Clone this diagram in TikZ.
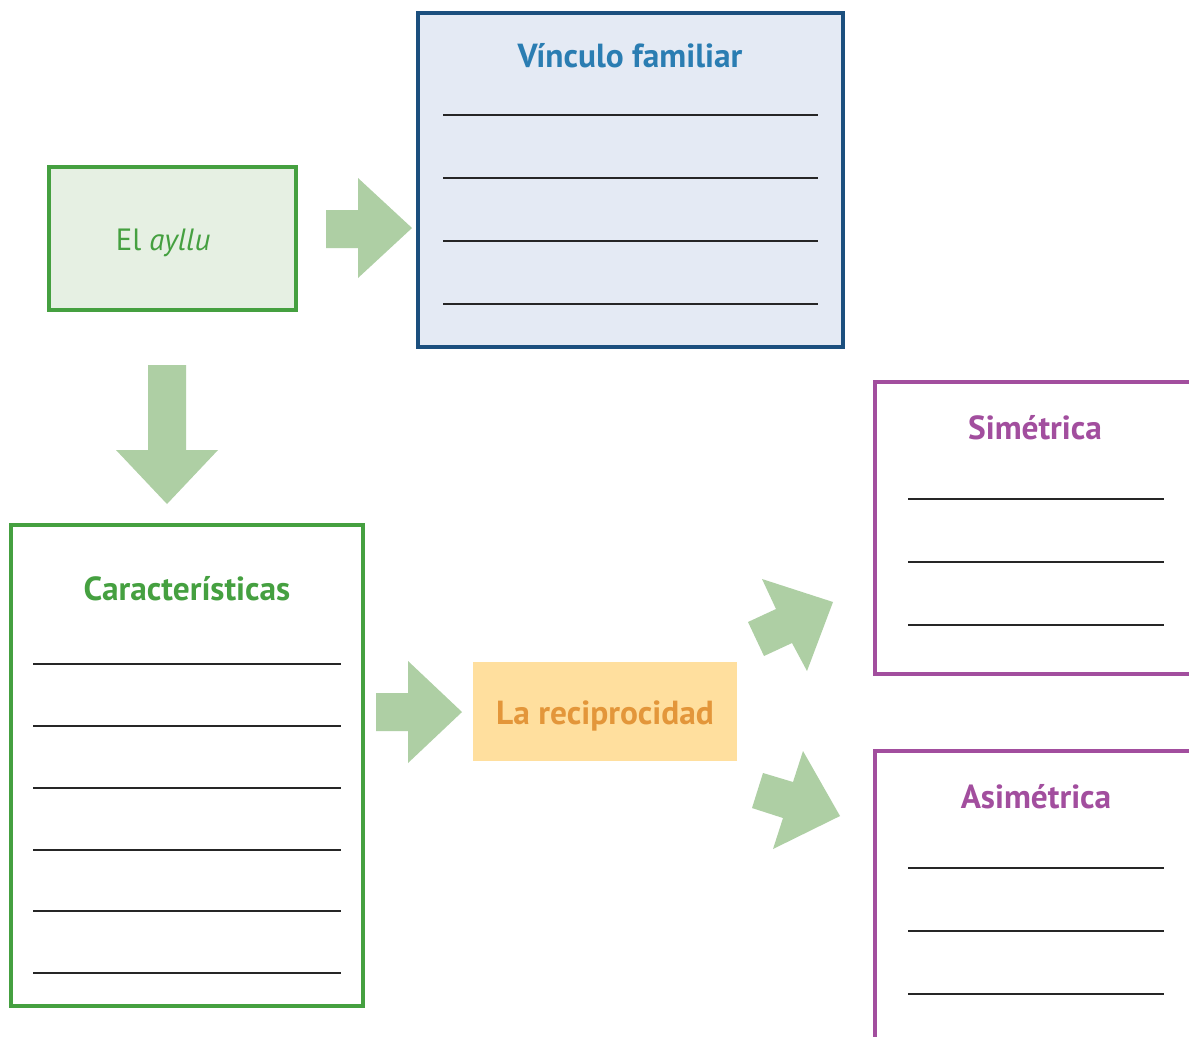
\documentclass[tikz,border=0pt]{standalone}
\usepackage{fontspec}
\setmainfont{PT Sans}
\usetikzlibrary{positioning}

\definecolor{aylluGreen}{HTML}{45A040}
\definecolor{aylluFill}{HTML}{E6F0E3}
\definecolor{arrowGreen}{HTML}{AECFA4}
\definecolor{vinculoBorder}{HTML}{1B4F7E}
\definecolor{vinculoFill}{HTML}{E4EAF4}
\definecolor{vinculoText}{HTML}{2A7DB2}
\definecolor{recipFill}{HTML}{FFDF9E}
\definecolor{recipText}{HTML}{E3963A}
\definecolor{simPurple}{HTML}{A24E9E}

\tikzset{
  writeline/.style={black!85,line width=0.7pt},
  boxline/.style={line width=1.9pt},
  title/.style={font=\fontsize{19}{22}\selectfont\bfseries},
}

\begin{document}
\begin{tikzpicture}[x=0.02cm,y=-0.02cm]
    \clip (0,0) rectangle (1189,1036);
    \fill[white] (0,0) rectangle (1189,1036);
    % el ayllu
    \draw[boxline,aylluGreen,fill=aylluFill] (49,167) rectangle (296,310);
    \node[text=aylluGreen,font=\fontsize{17.5}{20}\selectfont] (ayllu) at (163,243) {El \textit{ayllu}};
    % vinculo familiar
    \draw[boxline,vinculoBorder,fill=vinculoFill] (418,13) rectangle (843,347);
    \node[title,text=vinculoText] (vinculo) at (630,56) {Vínculo familiar};
    \foreach \y in {115,178,241,304}
      \draw[writeline] (443,\y) -- (818,\y);
    % caracteristicas
    \draw[boxline,aylluGreen] (11,525) rectangle (363,1006);
    \node[title,text=aylluGreen] (carac) at (187,589) {Características};
    \foreach \y in {664,726,788,850,911,973}
      \draw[writeline] (33,\y) -- (341,\y);
    % la reciprocidad
    \fill[recipFill] (473,662) rectangle (737,761);
    \node[title,text=recipText] (recip) at (605,716) {La reciprocidad};
    % simetrica / asimetrica
    \draw[boxline,simPurple] (1200,382) -- (875,382) -- (875,674) -- (1200,674);
    \node[title,text=simPurple] (sim) at (1035,428) {Simétrica};
    \foreach \y in {499,562,625}
      \draw[writeline] (908,\y) -- (1164,\y);
    \draw[boxline,simPurple] (1200,751) -- (875,751) -- (875,1050);
    \node[title,text=simPurple] (asim) at (1036,797) {Asimétrica};
    \foreach \y in {868,931,994}
      \draw[writeline] (908,\y) -- (1164,\y);
    % arrows
    \fill[arrowGreen] (326,210) -- (358,210) -- (358,178) -- (412,228) -- (358,278) -- (358,248) -- (326,248) -- cycle;
    \fill[arrowGreen] (148,365) -- (186,365) -- (186,450) -- (218,450) -- (167,504) -- (116,450) -- (148,450) -- cycle;
    \fill[arrowGreen] (376,693) -- (408,693) -- (408,661) -- (462,712) -- (408,763) -- (408,731) -- (376,731) -- cycle;
    \fill[arrowGreen] (748,622) -- (776,609) -- (762,579) -- (833,602) -- (807,671) -- (792,643) -- (764,656) -- cycle;
    \fill[arrowGreen] (752,808) -- (763,773) -- (793,782) -- (803,751) -- (840,816) -- (773,849) -- (783,818) -- cycle;
  \end{tikzpicture}
\end{document}
